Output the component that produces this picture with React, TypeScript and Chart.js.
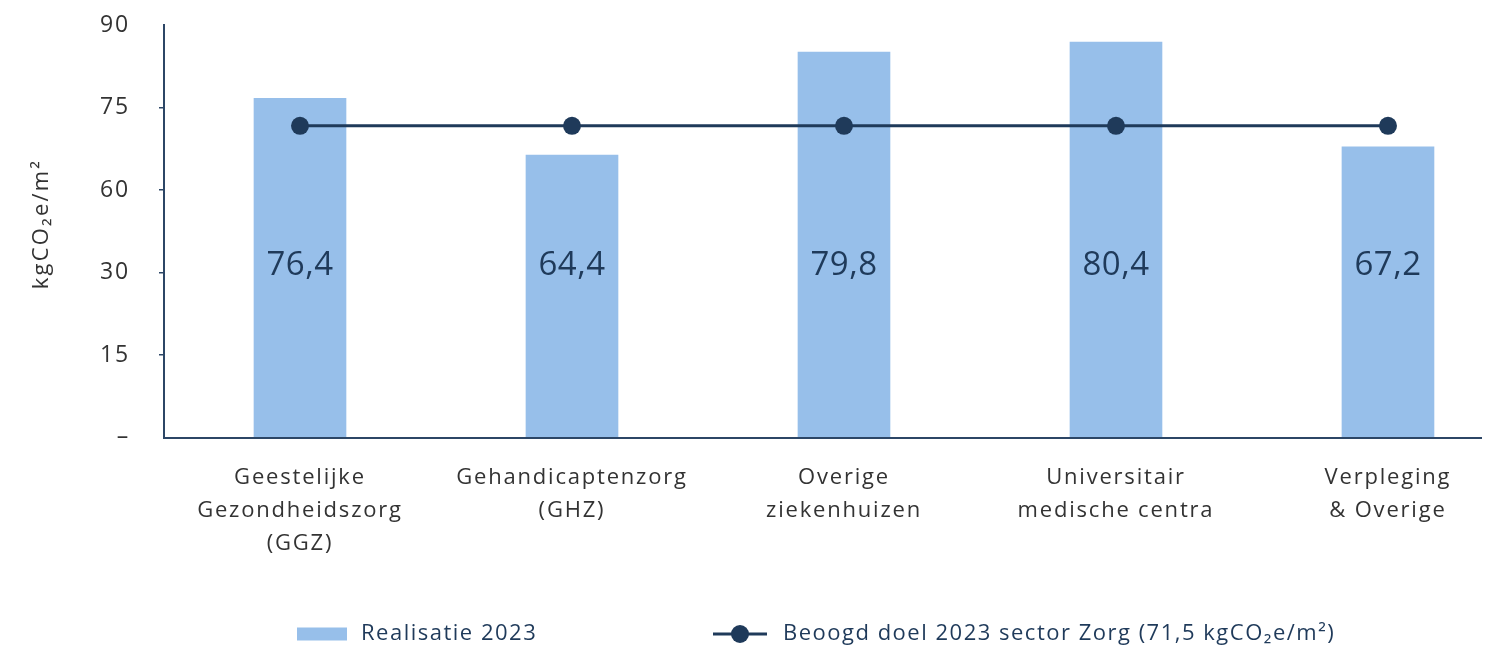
import React, { useEffect, useRef } from "react";
import { Chart, registerables } from "chart.js";

Chart.register(...registerables);

const categories: string[][] = [
  ["Geestelijke", "Gezondheidszorg", "(GGZ)"],
  ["Gehandicaptenzorg", "(GHZ)"],
  ["Overige", "ziekenhuizen"],
  ["Universitair", "medische centra"],
  ["Verpleging", "& Overige"],
];
const barValues: number[] = [74.0, 61.6, 84.1, 86.3, 63.4];
const barLabels: string[] = ["76,4", "64,4", "79,8", "80,4", "67,2"];
const targetValues: number[] = [68.0, 68.0, 68.0, 68.0, 68.0];
const yTickValues: number[] = [0, 18, 36, 54, 72, 90];
const yTickLabels: string[] = ["–", "15", "30", "60", "75", "90"];
const barSeriesName = "Realisatie 2023";
const lineSeriesName = "Beoogd doel 2023 sector Zorg (71,5 kgCO₂e/m²)";
const yTitle = "kgCO₂e/m²";

const FONT = "'Open Sans', sans-serif";
const NAVY = "#1f3a5a";
const BAR = "#97bfea";
const TEXT = "#333333";
const AXIS = "#2c4666";
const SPACING = "1.8px";

export default function App() {
  const ref = useRef<HTMLCanvasElement | null>(null);

  useEffect(() => {
    document.body.style.margin = "0";
    const canvas = ref.current;
    if (!canvas) return;

    const overlay = {
      id: "overlay",
      beforeUpdate(chart: any) {
        chart.ctx.letterSpacing = SPACING;
      },
      beforeLayout(chart: any) {
        chart.ctx.letterSpacing = SPACING;
      },
      beforeDraw(chart: any) {
        chart.ctx.letterSpacing = SPACING;
      },
      afterDatasetsDraw(chart: any) {
        const ctx = chart.ctx;
        const xs = chart.scales.x;
        const ys = chart.scales.y;
        ctx.save();
        ctx.letterSpacing = "0.5px";
        ctx.fillStyle = NAVY;
        ctx.font = `400 33px ${FONT}`;
        ctx.textAlign = "center";
        ctx.textBaseline = "middle";
        barLabels.forEach((t, i) => {
          ctx.fillText(t, xs.getPixelForValue(i), ys.getPixelForValue(37.5));
        });
        ctx.restore();
      },
      afterDraw(chart: any) {
        const ctx = chart.ctx;
        ctx.save();
        ctx.letterSpacing = "2.2px";
        ctx.fillStyle = TEXT;
        ctx.font = `400 22px ${FONT}`;
        ctx.textAlign = "center";
        ctx.textBaseline = "middle";
        ctx.translate(42, 224);
        ctx.rotate(-Math.PI / 2);
        ctx.fillText(yTitle, 0, 0);
        ctx.restore();

        ctx.save();
        ctx.letterSpacing = "1.5px";
        const ly = 634;
        ctx.fillStyle = BAR;
        ctx.fillRect(297, ly - 6.5, 50, 13);
        ctx.fillStyle = NAVY;
        ctx.font = `400 22px ${FONT}`;
        ctx.textAlign = "left";
        ctx.textBaseline = "middle";
        ctx.fillText(barSeriesName, 361, ly);
        ctx.strokeStyle = NAVY;
        ctx.lineWidth = 3;
        ctx.beginPath();
        ctx.moveTo(713, ly);
        ctx.lineTo(767, ly);
        ctx.stroke();
        ctx.beginPath();
        ctx.arc(740, ly, 9, 0, Math.PI * 2);
        ctx.fill();
        ctx.fillText(lineSeriesName, 783, ly);
        ctx.restore();
      },
    };

    const chart = new Chart(canvas, {
      type: "bar",
      data: {
        datasets: [
          {
            type: "line",
            label: lineSeriesName,
            data: targetValues.map((v, i) => ({ x: i, y: v })),
            borderColor: NAVY,
            backgroundColor: NAVY,
            borderWidth: 3,
            pointRadius: 9,
            pointBackgroundColor: NAVY,
            pointBorderWidth: 0,
            order: 0,
          } as any,
          {
            type: "bar",
            label: barSeriesName,
            data: barValues.map((v, i) => ({ x: i, y: v })),
            backgroundColor: BAR,
            barThickness: 92,
            order: 1,
          },
        ],
      },
      options: {
        animation: false,
        responsive: false,
        maintainAspectRatio: false,
        layout: { padding: { top: 25, right: 11, left: 0, bottom: 0 } },
        plugins: { legend: { display: false }, tooltip: { enabled: false } },
        scales: {
          x: {
            type: "linear",
            min: -0.5,
            max: 4.342,
            offset: false,
            grid: { display: false, drawTicks: false },
            border: { display: true, color: AXIS, width: 2 },
            afterBuildTicks: (s: any) => {
              s.ticks = categories.map((_, i) => ({ value: i }));
            },
            afterFit: (s: any) => {
              s.height = 650 - 437.5;
              s.paddingLeft = 0;
              s.paddingRight = 0;
            },
            ticks: {
              autoSkip: false,
              maxRotation: 0,
              padding: 24,
              color: TEXT,
              font: { family: FONT, size: 22, weight: 400 as any, lineHeight: 1.5 },
              callback: (v: any) => categories[Math.round(Number(v))] ?? "",
            },
          },
          y: {
            type: "linear",
            min: 0,
            max: 90,
            afterBuildTicks: (s: any) => {
              s.ticks = yTickValues.map((v) => ({ value: v }));
            },
            afterFit: (s: any) => {
              s.width = 164;
              s.paddingTop = 0;
              s.paddingBottom = 0;
            },
            grid: {
              drawOnChartArea: false,
              drawTicks: true,
              tickLength: 5,
              color: (c: any) => (c.tick && (c.tick.value === 90 || c.tick.value === 0) ? "rgba(0,0,0,0)" : AXIS),
              lineWidth: 1.5,
            },
            border: { display: true, color: AXIS, width: 2 },
            ticks: {
              padding: 29,
              color: TEXT,
              font: { family: FONT, size: 23, weight: 400 as any },
              callback: (v: any) => {
                const idx = yTickValues.indexOf(Number(v));
                return idx >= 0 ? yTickLabels[idx] : "";
              },
            },
          },
        },
      },
      plugins: [overlay],
    });

    return () => chart.destroy();
  }, []);

  return (
    <div style={{ position: "fixed", left: 0, top: 0, width: 1492, height: 650, background: "#fff" }}>
      <canvas ref={ref} width={1492} height={650} style={{ width: 1492, height: 650, display: "block" }} />
    </div>
  );
}
